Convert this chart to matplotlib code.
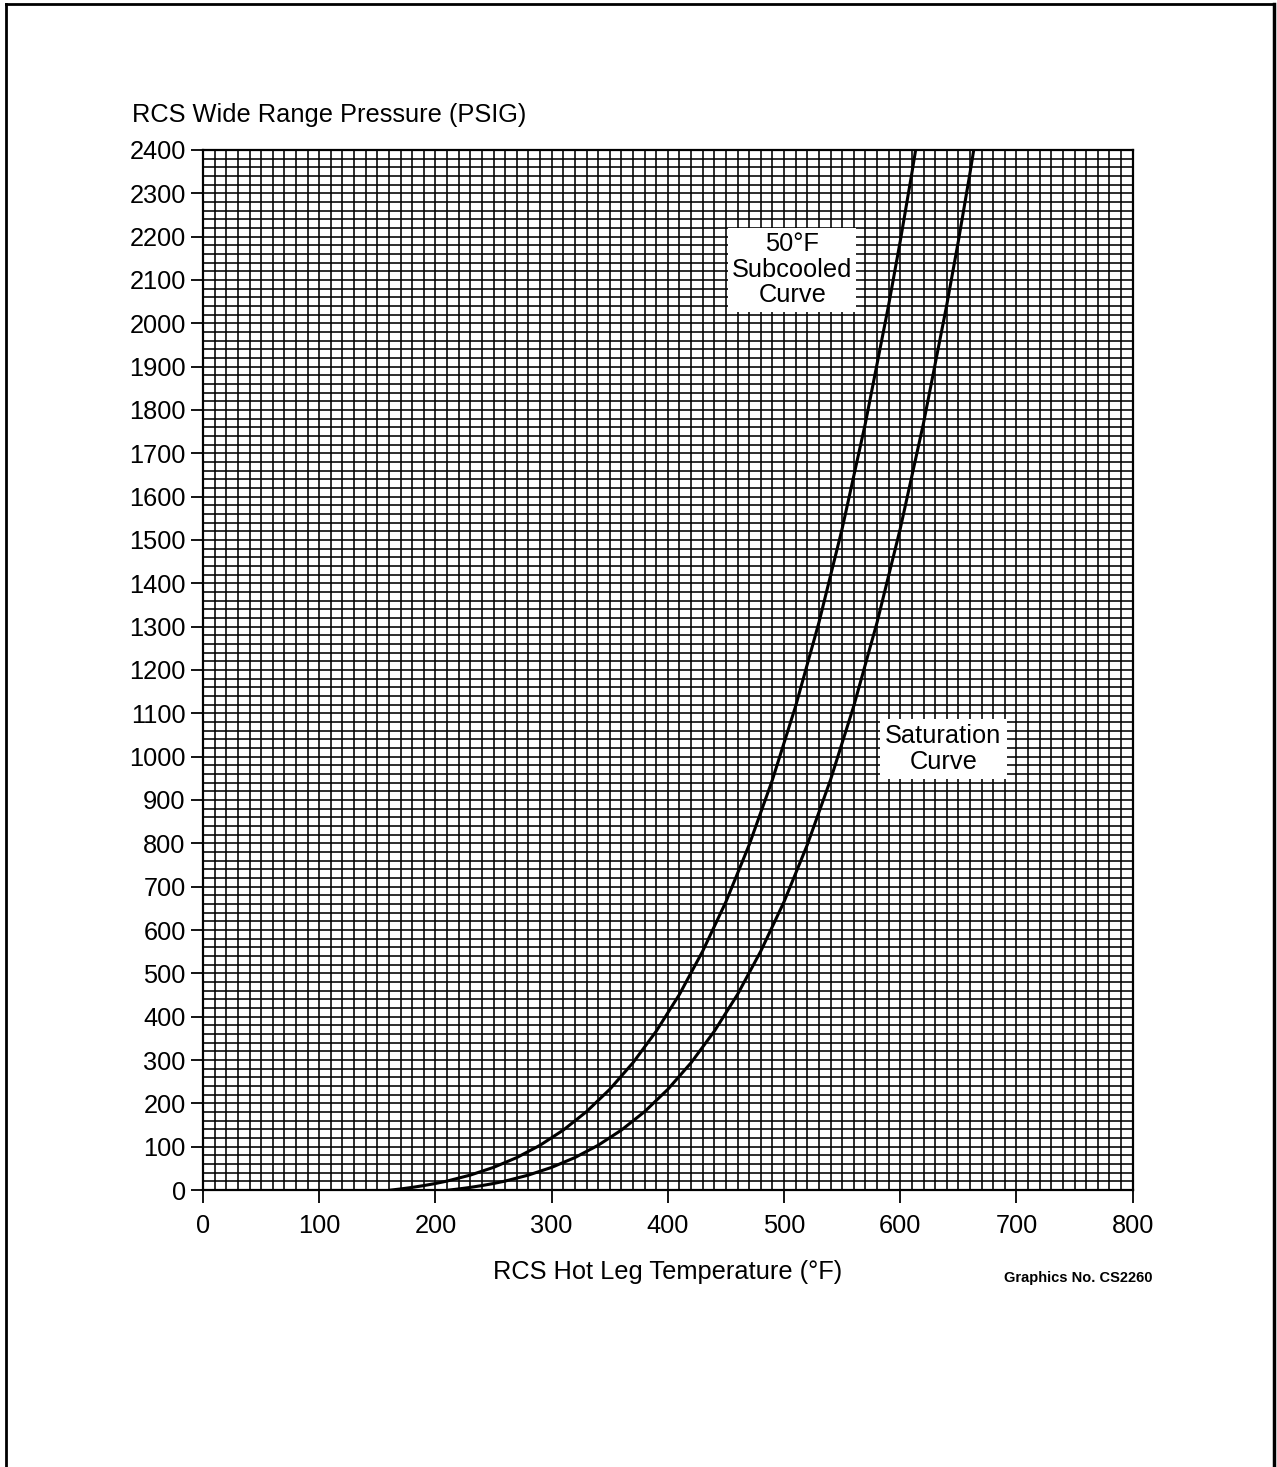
import numpy as np
import matplotlib.pyplot as plt
from matplotlib.lines import Line2D

plt.rcParams['font.family'] = ['Liberation Sans', 'DejaVu Sans']

# Saturation curve (deg F, psig)
sat_temp = [212, 220, 230, 240, 250, 260, 280, 300, 320, 340, 360, 380, 400,
            420, 440, 460, 480, 500, 520, 540, 560, 580, 600, 620, 640, 650,
            660, 664]
sat_psig = [0, 2.5, 6.1, 10.3, 15.1, 20.7, 34.5, 52.3, 74.9, 103.3, 138.3,
            180.9, 232.4, 293.8, 366.5, 451.6, 551.4, 665.3, 796.7, 946.8,
            1117.1, 1309.6, 1526.3, 1769.7, 2042.4, 2190, 2347, 2413]

# 50 deg F subcooled curve
sub_temp = [162, 170, 180, 190, 200, 210, 230, 250, 270, 290, 310, 330, 350,
            370, 390, 410, 430, 450, 470, 490, 510, 530, 550, 570, 590, 600,
            610, 614]
sub_psig = [0, 2.5, 6.1, 10.3, 15.1, 20.7, 34.5, 52.3, 74.9, 103.3, 138.3,
            180.9, 232.4, 293.8, 366.5, 451.6, 551.4, 665.3, 796.7, 946.8,
            1117.1, 1309.6, 1526.3, 1769.7, 2042.4, 2190, 2347, 2413]

x_ticks = [0, 100, 200, 300, 400, 500, 600, 700, 800]
y_ticks = list(range(0, 2401, 100))

fig = plt.figure(figsize=(12.77, 14.67), dpi=100)
ax = fig.add_axes([0.159, 0.1888, 0.728, 0.709])

ax.set_xlim(0, 800)
ax.set_ylim(0, 2400)

# fine grid: 10 F by 20 psig
ax.set_xticks(x_ticks)
ax.set_yticks(y_ticks)
ax.set_xticks(np.arange(0, 801, 10), minor=True)
ax.set_yticks(np.arange(0, 2401, 20), minor=True)
ax.grid(which='both', color='black', linewidth=1.15)
ax.tick_params(which='minor', length=0)
ax.tick_params(which='major', length=9, width=1.3, labelsize=18.3, direction='out')
ax.tick_params(axis='x', which='major', pad=8)
ax.set_axisbelow(True)
for s in ax.spines.values():
    s.set_linewidth(1.6)

ax.plot(sub_temp, sub_psig, color='black', linewidth=2.2)
ax.plot(sat_temp, sat_psig, color='black', linewidth=2.2)

ax.text(507, 2123, '50°F\nSubcooled\nCurve', fontsize=18.3, ha='center', va='center',
        linespacing=1.08, bbox=dict(facecolor='white', edgecolor='none', pad=3))
ax.text(637, 1018, 'Saturation\nCurve', fontsize=18.3, ha='center', va='center',
        linespacing=1.08, bbox=dict(facecolor='white', edgecolor='none', pad=4))

ax.set_xlabel('RCS Hot Leg Temperature (°F)', fontsize=18.3, labelpad=16)
fig.text(132 / 1277, 1 - 115 / 1467, 'RCS Wide Range Pressure (PSIG)', fontsize=18.3,
         ha='left', va='center')
fig.text(1153 / 1277, 1 - 1278 / 1467, 'Graphics No. CS2260', fontsize=10.5,
         fontweight='bold', ha='right', va='center')

# page frame
fig.add_artist(Line2D([6 / 1277, 6 / 1277], [0, 1 - 4 / 1467], color='black', linewidth=2))
fig.add_artist(Line2D([6 / 1277, 1274 / 1277], [1 - 4 / 1467, 1 - 4 / 1467], color='black', linewidth=2))
fig.add_artist(Line2D([1274 / 1277, 1274 / 1277], [0, 1 - 4 / 1467], color='black', linewidth=2.5))

fig.savefig('out.png', dpi=100)
